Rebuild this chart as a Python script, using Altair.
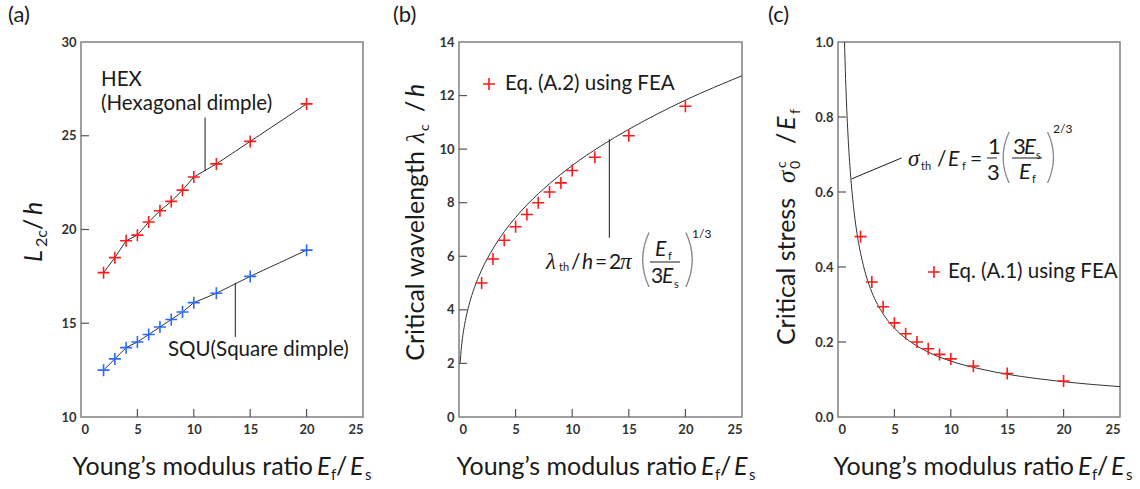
import altair as alt
import pandas as pd

# ---------------- data ----------------
ratio = [2, 3, 4, 5, 6, 7, 8, 9, 10, 12, 15, 20]
hex_L = [17.7, 18.5, 19.4, 19.7, 20.4, 21.0, 21.5, 22.1, 22.8, 23.5, 24.7, 26.7]
squ_L = [12.5, 13.1, 13.7, 14.0, 14.4, 14.8, 15.2, 15.6, 16.1, 16.6, 17.5, 18.9]
fea_lambda = [5.0, 5.9, 6.6, 7.1, 7.56, 8.0, 8.4, 8.74, 9.2, 9.7, 10.5, 11.6]
fea_sigma = [0.481, 0.36, 0.294, 0.251, 0.222, 0.2, 0.182, 0.167, 0.155, 0.136, 0.116, 0.096]

# theory curves
lam_x = [0.1, 0.2, 0.3, 0.5, 0.75, 1, 1.5, 2, 3, 4, 5, 6, 8, 10, 12.5, 15, 17.5, 20, 22.5, 25]
lam_y = [2.02, 2.55, 2.92, 3.46, 3.96, 4.36, 4.99, 5.49, 6.28, 6.92, 7.45, 7.92, 8.71, 9.39,
         10.11, 10.74, 11.31, 11.83, 12.30, 12.74]
sig_x = [0.577, 0.6, 0.65, 0.7, 0.8, 0.9, 1, 1.1, 1.25, 1.5, 1.75, 2, 2.5, 3, 4, 5, 6, 8, 10,
         12.5, 15, 17.5, 20, 25]
sig_y = [1.0, 0.975, 0.924, 0.879, 0.805, 0.744, 0.693, 0.651, 0.598, 0.529, 0.477, 0.437,
         0.376, 0.333, 0.275, 0.237, 0.210, 0.173, 0.149, 0.129, 0.114, 0.103, 0.094, 0.081]

x_ticks = [0, 5, 10, 15, 20, 25]
ya_ticks = [10, 15, 20, 25, 30]
yb_ticks = [0, 2, 4, 6, 8, 10, 12, 14]
yc_ticks = [0.0, 0.2, 0.4, 0.6, 0.8, 1.0]

# leader lines (x, y, x2, y2) in data units
lead_hex = [11.0, 25.97, 11.0, 23.12]
lead_squ = [13.68, 17.16, 13.68, 14.27]
lead_b = [13.28, 10.37, 13.28, 6.69]
lead_c = [1.21, 0.635, 5.65, 0.691]

# ---------------- style ----------------
W, H = 282, 375
SANS = "Lato"
SERIF = "Liberation Serif"
TXT = "#1a1a1a"
RED = "#ff1a1a"
BLUE = "#2a6bff"
CROSS = "M-1,0L1,0M0,-1L0,1"
ONE = alt.Data(values=[{"k": 0}])


def T(text, x, y, size=20, italic=False, font=SANS, align="left", baseline="alphabetic",
      angle=0, color=TXT, weight="normal"):
    return alt.Chart(ONE).mark_text(
        text=text, fontSize=size, font=font, fontStyle="italic" if italic else "normal",
        align=align, baseline=baseline, angle=angle, color=color, fontWeight=weight
    ).encode(x=alt.value(x), y=alt.value(y))


def paren(ch, x, y, size=60):
    return T(ch, x, y, size=size, font="Inter", baseline="middle", color="#8a8a8a", weight=100)


def hline(x1, x2, y):
    return alt.Chart(ONE).mark_rule(color=TXT, strokeWidth=1).encode(
        x=alt.value(x1), x2=alt.value(x2), y=alt.value(y))


def legend_cross(x, y):
    return alt.Chart(ONE).mark_point(shape=CROSS, size=144, strokeWidth=1.6, color=RED,
                                     filled=False, opacity=1).encode(
        x=alt.value(x), y=alt.value(y))


def xscale():
    return alt.Scale(domain=[0, 25], nice=False, zero=False)


def xaxis():
    return alt.Axis(values=x_ticks, title=None, grid=False, domain=False, ticks=False,
                    labelFont=SANS, labelFontSize=13, labelColor="#333", labelPadding=6,
                    labelFontWeight="bold", format="d")


def yaxis(vals, fmt):
    return alt.Axis(values=vals, title=None, grid=False, domain=False, ticks=False,
                    labelFont=SANS, labelFontSize=13, labelColor="#333", labelPadding=5,
                    labelFontWeight="bold", format=fmt)


def inward_ticks(xv, yv):
    xt = alt.Chart(pd.DataFrame({"v": xv})).mark_rule(color="#555", strokeWidth=1.2).encode(
        x=alt.X("v:Q"), y=alt.value(H), y2=alt.value(H - 8))
    yt = alt.Chart(pd.DataFrame({"v": yv})).mark_rule(color="#555", strokeWidth=1.2).encode(
        y=alt.Y("v:Q"), x=alt.value(0), x2=alt.value(8))
    return [xt, yt]


def xtitle(off):
    return [
        T("Young\u2019s modulus ratio", 232 + off, 433, size=25, align="right"),
        T("E", 236 + off, 433, size=25, italic=True),
        T("f", 250 + off, 438, size=15),
        T("/", 255 + off, 433, size=25),
        T("E", 269 + off, 433, size=25, italic=True),
        T("s", 284 + off, 438, size=15),
    ]


def lead(vals):
    return alt.Chart(pd.DataFrame({"x": [vals[0]], "y": [vals[1]], "x2": [vals[2]],
                                   "y2": [vals[3]]})).mark_rule(color=TXT, strokeWidth=1).encode(
        x="x:Q", y="y:Q", x2="x2:Q", y2="y2:Q")


def crosses(df, ycol, color):
    return alt.Chart(df).mark_point(shape=CROSS, size=144, strokeWidth=1.6, color=color,
                                    filled=False, opacity=1).encode(x="x:Q", y=f"{ycol}:Q")


# ---------------- panel (a) ----------------
da = pd.DataFrame({"x": ratio, "hex": hex_L, "squ": squ_L})
ya = alt.Scale(domain=[10, 30], nice=False, zero=False)
base_a = alt.Chart(da).encode(x=alt.X("x:Q", scale=xscale(), axis=xaxis()))
pa = alt.layer(
    base_a.mark_line(color="#333", strokeWidth=1).encode(
        y=alt.Y("hex:Q", scale=ya, axis=yaxis(ya_ticks, "d"))),
    base_a.mark_line(color="#333", strokeWidth=1).encode(y=alt.Y("squ:Q")),
    crosses(da, "hex", RED),
    crosses(da, "squ", BLUE),
    lead(lead_hex), lead(lead_squ),
    *inward_ticks([5, 10, 15, 20], [15, 20, 25]),
    T("HEX", 20, 38, size=20.5, baseline="middle"),
    T("(Hexagonal dimple)", 20, 62, size=20.5, baseline="middle"),
    T("SQU(Square dimple)", 87, 308, size=20.5, baseline="middle"),
    T("(a)", -73, -37, size=22, baseline="top"),
    T("L", -39, 220, size=25, italic=True, angle=270),
    T("2c", -34, 205, size=16, angle=270),
    T("/", -39, 188, size=25, angle=270),
    T("h", -39, 173, size=25, italic=True, angle=270),
    *xtitle(0),
).properties(width=W, height=H)

# ---------------- panel (b) ----------------
db = pd.DataFrame({"x": ratio, "y": fea_lambda})
dbc = pd.DataFrame({"x": lam_x, "y": lam_y})
yb = alt.Scale(domain=[0, 14], nice=False, zero=False)
pb = alt.layer(
    alt.Chart(dbc).mark_line(color="#333", strokeWidth=1, interpolate="monotone").encode(
        x=alt.X("x:Q", scale=xscale(), axis=xaxis()),
        y=alt.Y("y:Q", scale=yb, axis=yaxis(yb_ticks, "d"))),
    crosses(db, "y", RED),
    lead(lead_b),
    *inward_ticks([5, 10, 15, 20], [2, 4, 6, 8, 10, 12]),
    legend_cross(30, 42),
    T("Eq. (A.2) using FEA", 46, 42, size=20.5, baseline="middle"),
    # formula
    T("\u03bb", 87, 227, size=23, italic=True, font=SERIF),
    T("th", 100, 229, size=11),
    T("/", 112, 227, size=21),
    T("h", 123, 227, size=21, italic=True),
    T("=", 136, 227, size=21),
    T("2", 150, 227, size=21),
    T("\u03c0", 161, 227, size=23, italic=True, font=SERIF),
    paren("(", 176, 219),
    T("E", 196, 214, size=21, italic=True),
    T("f", 209, 218, size=11),
    hline(191, 221, 220),
    T("3", 192, 241, size=21),
    T("E", 203, 241, size=21, italic=True),
    T("s", 215, 246, size=11),
    paren(")", 222, 219),
    T("1/3", 233, 196, size=12),
    T("(b)", -66, -37, size=22, baseline="top"),
    T("Critical wavelength", -35, 109, size=25, angle=270, align="right"),
    T("\u03bb", -35, 101, size=25, italic=True, font=SERIF, angle=270),
    T("c", -30, 89, size=14, angle=270),
    T("/", -35, 70, size=25, angle=270),
    T("h", -35, 55, size=25, italic=True, angle=270),
    *xtitle(6),
).properties(width=283, height=H)

# ---------------- panel (c) ----------------
dc = pd.DataFrame({"x": ratio, "y": fea_sigma})
dcc = pd.DataFrame({"x": sig_x, "y": sig_y})
yc = alt.Scale(domain=[0, 1], nice=False, zero=False)
pc = alt.layer(
    alt.Chart(dcc).mark_line(color="#333", strokeWidth=1, interpolate="monotone").encode(
        x=alt.X("x:Q", scale=xscale(), axis=xaxis()),
        y=alt.Y("y:Q", scale=yc, axis=yaxis(yc_ticks, ".1f"))),
    crosses(dc, "y", RED),
    lead(lead_c),
    *inward_ticks([5, 10, 15, 20], [0.2, 0.4, 0.6, 0.8]),
    legend_cross(96, 230),
    T("Eq. (A.1) using FEA", 110, 230, size=20.5, baseline="middle"),
    # formula
    T("\u03c3", 70, 124, size=23, italic=True, font=SERIF),
    T("th", 83, 128, size=11),
    T("/", 99, 124, size=21),
    T("E", 110, 124, size=21, italic=True),
    T("f", 124, 128, size=11),
    T("=", 132, 124, size=21),
    T("1", 150, 112, size=22),
    hline(149, 159, 116),
    T("3", 149, 138, size=22),
    paren("(", 158, 116, 56),
    T("3", 175, 112, size=22),
    T("E", 186, 112, size=22, italic=True),
    T("s", 198, 117, size=11),
    hline(174, 204, 116),
    T("E", 181, 137, size=22, italic=True),
    T("f", 194, 141, size=11),
    paren(")", 205, 116, 56),
    T("2/3", 215, 91, size=12),
    T("(c)", -70, -37, size=22, baseline="top"),
    T("Critical stress", -43, 156, size=25, angle=270, align="right"),
    T("\u03c3", -43, 141, size=25, italic=True, font=SERIF, angle=270),
    T("0", -38, 127, size=14, angle=270),
    T("c", -52, 126, size=14, angle=270),
    T("/", -43, 102, size=25, angle=270),
    T("E", -43, 88, size=25, italic=True, angle=270),
    T("f", -38, 72, size=14, angle=270),
    *xtitle(4),
).properties(width=W, height=H)

chart = alt.hconcat(pa, pb, pc, spacing=96, bounds="flush").properties(
    padding={"left": 7, "top": 3, "right": 5, "bottom": 5}
).resolve_scale(x="independent", y="independent").configure_view(
    stroke="#808080", strokeWidth=1.5
)

chart.save("out.html", embed_options={"renderer": "svg", "actions": False})
